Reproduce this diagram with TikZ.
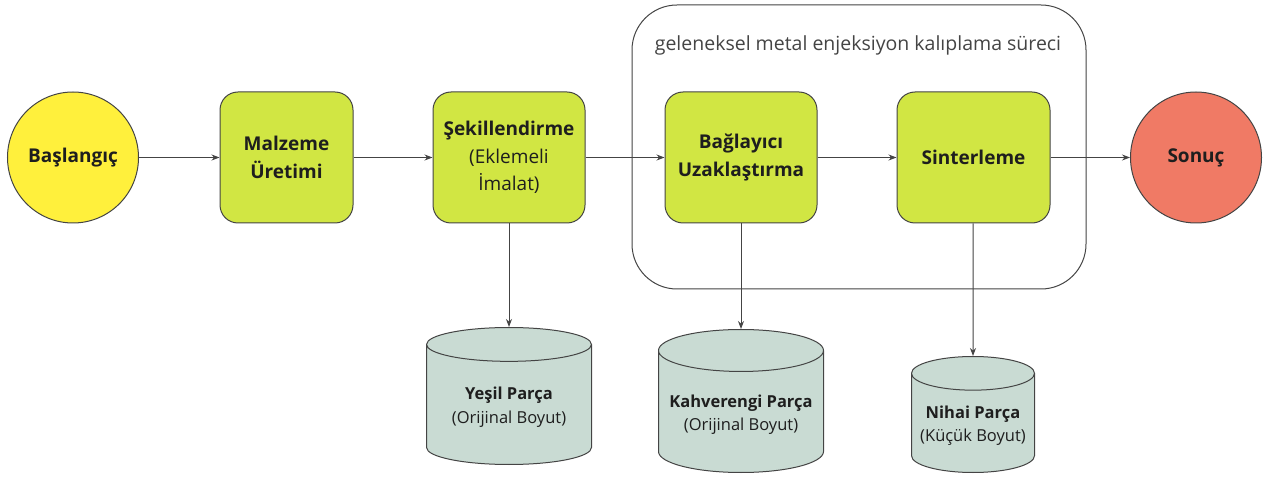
\documentclass[tikz,border=0pt]{standalone}
\usepackage{fontspec}
\setmainfont{Open Sans}
\usetikzlibrary{arrows.meta,shapes.geometric}

\definecolor{startyellow}{RGB}{255,240,60}
\definecolor{stepgreen}{RGB}{209,230,67}
\definecolor{endred}{RGB}{240,122,101}
\definecolor{partgray}{RGB}{201,219,211}
\definecolor{linegray}{RGB}{68,68,68}
\definecolor{textdark}{RGB}{30,30,30}

\tikzset{
  ends/.style={circle,draw=linegray,line width=1pt,minimum size=131pt,
    text=textdark,font=\bfseries\fontsize{19}{28}\selectfont},
  stepbox/.style={rectangle,rounded corners=18pt,draw=linegray,fill=stepgreen,
    line width=1pt,minimum width=152pt,minimum height=131pt,align=center,
    text=textdark,font=\fontsize{19}{27.5}\selectfont},
  partdb/.style={cylinder,shape border rotate=90,aspect=0.28,draw=linegray,
    fill=partgray,line width=1pt,align=center,text=textdark,anchor=south,
    font=\fontsize{16.5}{23.5}\selectfont},
  flow/.style={->,draw=linegray,line width=1pt}
}

\begin{document}
\begin{tikzpicture}[x=1pt,y=-1pt,>={Stealth[length=8pt,width=6pt]}]
  \useasboundingbox (0,0) rectangle (1264,478);
  % Process frame
  \draw[linegray,line width=1pt,rounded corners=45pt] (632,5) rectangle (1086,289);
  \node[text=linegray,font=\fontsize{19.5}{28}\selectfont] (frametitle) at (858,45)
    {geleneksel metal enjeksiyon kalıplama süreci};
  % Main flow
  \node[ends,fill=startyellow] (start) at (73,157.5) {Başlangıç};
  \node[stepbox,minimum width=133pt] (malzeme) at (286.5,157.5) {\textbf{Malzeme}\\\textbf{Üretimi}};
  \node[stepbox] (sekil) at (509,157.5) {\textbf{Şekillendirme}\\(Eklemeli\\İmalat)};
  \node[stepbox] (bag) at (741,157.5) {\textbf{Bağlayıcı}\\\textbf{Uzaklaştırma}};
  \node[stepbox,minimum width=153pt] (sinter) at (973.5,157.5) {\textbf{Sinterleme}};
  \node[ends,fill=endred] (sonuc) at (1196,157.5) {Sonuç};
  % Parts
  \node[partdb,minimum width=165pt,minimum height=137pt] (yesil) at (509,465)
    {\textbf{Yeşil Parça}\\(Orijinal Boyut)};
  \node[partdb,minimum width=165pt,minimum height=143pt] (kahve) at (741,473)
    {\textbf{Kahverengi Parça}\\(Orijinal Boyut)};
  \node[partdb,minimum width=123pt,minimum height=116pt,aspect=0.3] (nihai) at (973,473)
    {\textbf{Nihai Parça}\\(Küçük Boyut)};
  % Connectors
  \draw[flow] (start) -- (malzeme);
  \draw[flow] (malzeme) -- (sekil);
  \draw[flow] (sekil) -- (bag);
  \draw[flow] (bag) -- (sinter);
  \draw[flow] (sinter) -- (sonuc);
  \draw[flow] (sekil) -- (yesil);
  \draw[flow] (bag) -- (kahve);
  \draw[flow] (sinter.south -| nihai) -- (nihai);
\end{tikzpicture}
\end{document}
